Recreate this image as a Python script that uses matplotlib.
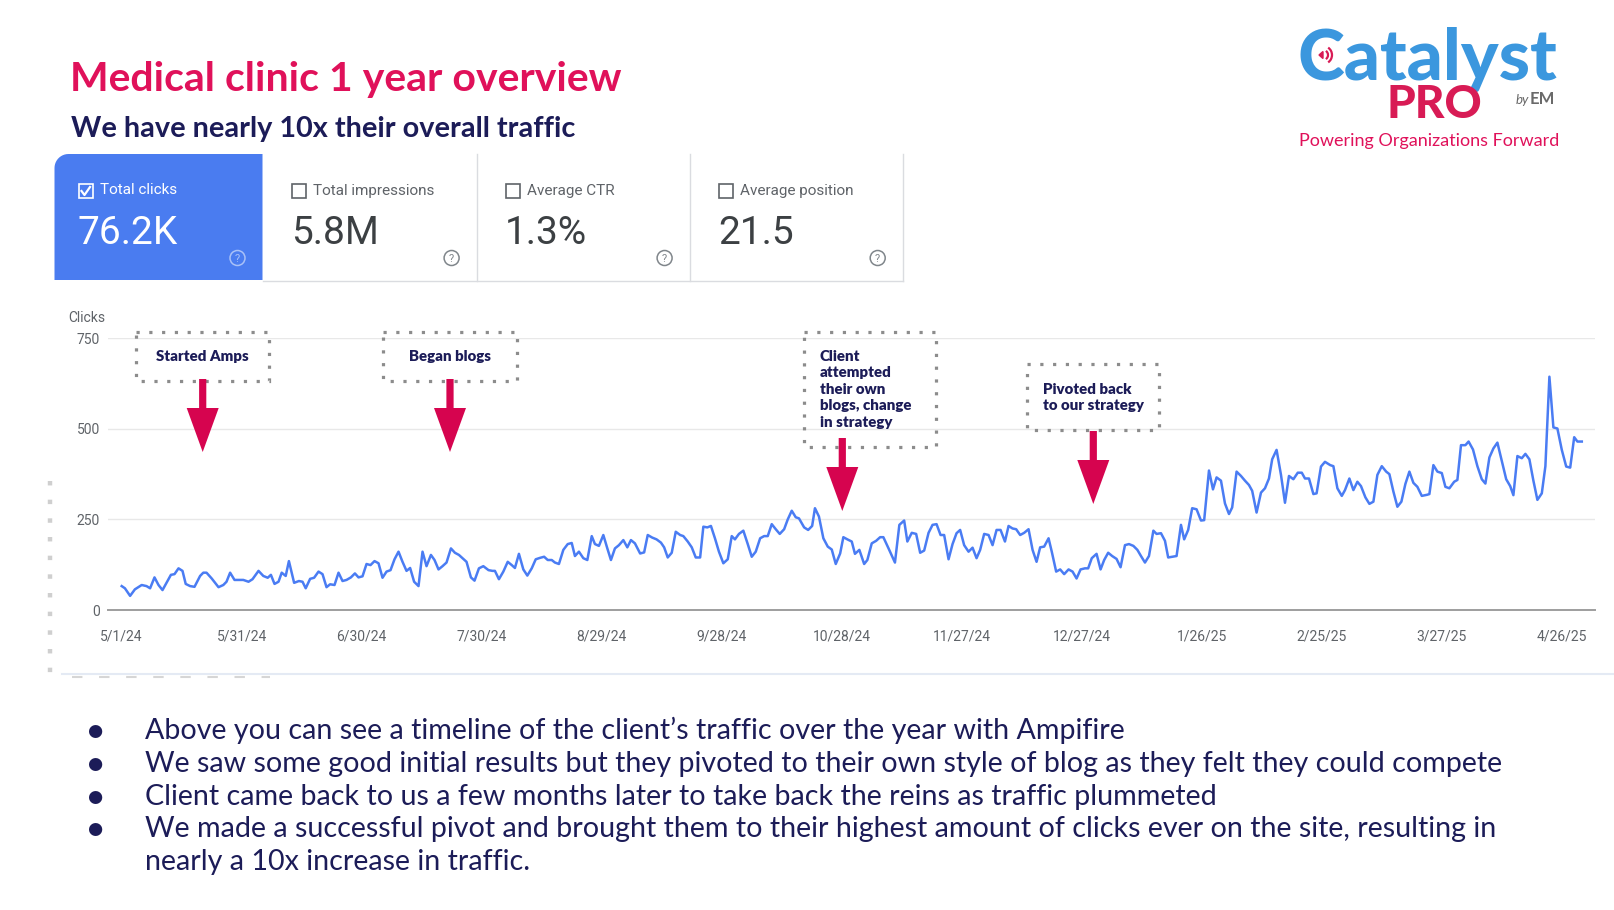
import matplotlib
matplotlib.use('Agg')
import matplotlib.pyplot as plt
import numpy as np
import pandas as pd
from matplotlib.patches import Rectangle, Polygon, Circle, Arc

# ---------------- data ----------------
start_date = '2024-05-01'
day_offset = (
    [0, 0.8, 2.1, 3.3, 5.0, 6.2, 7.1, 8.2, 9.2, 10.2, 11.2, 12.3, 13.2, 14.2, 15.2, 16.0, 17.1, 18.2,
     19.6, 20.4, 21.2, 22.5, 24.2, 25.4, 26.2, 27.1, 28.2, 30.4, 31.7, 32.7, 34.2, 35.4, 36.5, 37.3,
     38.2, 39.2, 40.0, 41.0, 41.8, 43.1, 44.3, 45.2, 46.0, 47.1, 48.1, 49.2, 50.2, 51.2, 52.1, 53.2,
     54.2, 55.2, 56.2, 57.3]
    + [58.3, 59.2, 60.2, 61.2, 62.2, 63.2, 64.2, 65.2, 66.2, 67.2, 68.2, 69.2, 70.2, 71.2, 72.1, 73.1,
       74.2, 75.2, 76.2, 77.3, 78.2, 79.2, 80.2, 81.2, 82.3, 83.3, 84.3, 85.2, 86.2, 87.3, 88.2, 89.3,
       90.4, 91.7, 92.7, 93.3, 94.3, 95.4, 96.5, 97.5, 98.3, 99.3, 100.4, 101.4, 102.5, 103.5, 104.6,
       105.6, 106.5, 107.5, 108.3, 109.3, 110.4, 111.5, 112.5, 113.3, 114.3, 115.4, 116.4, 117.5]
    + [118.3, 119.3, 120.4, 121.4, 122.3, 123.3, 124.3, 125.4, 126.4, 127.3, 128.3, 129.6, 130.6,
       131.5, 132.6, 133.7, 134.8, 135.6, 136.5, 137.5, 138.5, 139.6, 140.4, 141.5, 142.5, 143.5,
       144.6, 145.4, 146.4, 147.3, 148.3, 149.3, 150.4, 151.5, 152.5, 153.3, 154.3, 155.4, 156.5,
       157.5, 158.5, 159.6, 160.6, 161.5, 162.5, 163.5, 164.5, 165.6, 166.5, 167.5, 168.5, 169.3,
       170.6, 171.6, 172.6, 173.3, 174.3, 175.4, 176.5, 177.5, 178.5]
    + [179.6, 180.4, 181.4, 182.5, 183.3, 184.4, 185.6, 186.4, 187.5, 188.6, 189.6, 190.4, 191.7,
       193.3, 194.4, 195.6, 196.4, 197.5, 198.6, 199.6, 200.6, 201.7, 202.7, 203.7, 204.7, 205.6,
       206.7, 207.7, 208.7, 209.6, 210.6, 211.7, 212.7, 213.7, 214.6, 215.6, 216.7, 217.7, 218.7,
       219.7, 220.8, 221.7, 222.7, 223.6, 224.6, 225.6, 226.7, 227.7, 228.7, 229.6, 230.6, 231.7,
       232.5, 233.6, 234.6, 235.6, 236.7, 237.7, 238.7, 239.7]
    + [240.8, 241.6, 242.5, 243.7, 244.7, 245.6, 246.6, 247.6, 248.7, 249.7, 250.8, 251.8, 252.9,
       253.9, 254.8, 255.8, 256.8, 257.9, 258.7, 259.8, 260.8, 261.6, 262.6, 263.7, 264.8, 265.6,
       266.6, 267.6, 268.7, 269.8, 270.6, 271.8, 272.8, 273.7, 274.8, 275.8, 276.8, 277.6, 278.7,
       279.8, 280.8, 281.8, 282.6, 283.7, 284.8, 285.8, 286.8, 287.6, 288.7, 289.8, 290.8, 291.8,
       292.9, 294.0, 295.0, 295.8, 296.8, 297.9, 298.7, 299.8, 300.8]
    + [302.1, 302.9, 303.9, 305.0, 305.8, 306.9, 307.9, 308.9, 309.8, 310.9, 311.9, 312.9, 313.9,
       315.0, 316.1, 316.9, 317.9, 318.9, 319.9, 320.9, 321.9, 322.9, 323.9, 325.0, 326.3, 326.9,
       327.9, 328.9, 330.0, 330.9, 331.9, 333.1, 333.9, 334.8, 335.9, 336.7, 337.8, 338.9, 340.0,
       340.9, 341.9, 342.9, 343.9, 345.0, 346.1, 347.1, 347.9, 348.9, 350.0, 350.9, 351.9, 352.9,
       353.9, 355.0, 355.9, 356.9, 357.9, 358.9, 360.0, 361.1, 362.1, 363.1, 363.9, 365.0]
)
clicks = (
    [66, 60, 39, 57, 69, 66, 60, 90, 69, 55, 75, 97, 99, 115, 108, 72, 66, 64, 94, 103, 103, 87, 63,
     69, 78, 103, 83, 83, 78, 85, 108, 94, 89, 97, 72, 78, 103, 94, 135, 75, 80, 78, 60, 86, 89, 106,
     99, 63, 71, 69, 103, 80, 83, 90]
    + [101, 90, 93, 127, 124, 135, 129, 89, 106, 110, 140, 161, 133, 108, 116, 78, 66, 161, 121, 152,
       138, 112, 121, 131, 170, 158, 152, 143, 133, 90, 81, 115, 121, 110, 108, 108, 85, 106, 133,
       124, 116, 155, 112, 95, 115, 140, 144, 147, 138, 138, 131, 127, 166, 182, 185, 149, 161, 143,
       138, 204]
    + [182, 177, 207, 170, 138, 170, 179, 193, 173, 193, 184, 156, 159, 207, 200, 195, 186, 173, 145,
       158, 216, 207, 204, 189, 173, 145, 145, 230, 228, 232, 198, 161, 129, 140, 204, 195, 210, 219,
       182, 147, 161, 198, 204, 204, 237, 223, 210, 223, 250, 274, 256, 253, 228, 221, 232, 281, 258,
       198, 175, 167, 127]
    + [156, 201, 195, 189, 155, 166, 127, 138, 184, 191, 201, 201, 170, 131, 235, 247, 189, 213, 210,
       158, 164, 213, 235, 237, 207, 207, 140, 182, 212, 221, 179, 161, 172, 143, 166, 210, 207, 179,
       221, 221, 189, 232, 225, 223, 207, 213, 223, 166, 133, 173, 175, 198, 161, 106, 112, 99, 112,
       106, 87, 112]
    + [115, 115, 143, 155, 112, 138, 158, 149, 141, 118, 179, 182, 177, 166, 149, 131, 149, 219, 210,
       212, 191, 145, 147, 149, 235, 195, 221, 281, 278, 247, 248, 385, 333, 366, 357, 294, 265, 283,
       382, 370, 357, 345, 329, 269, 324, 336, 363, 416, 442, 373, 296, 370, 361, 379, 379, 363, 363,
       320, 322, 396, 409]
    + [400, 397, 336, 315, 331, 363, 331, 354, 342, 311, 293, 299, 373, 397, 382, 375, 327, 285, 299,
       348, 382, 351, 340, 315, 318, 320, 400, 382, 378, 340, 336, 354, 359, 455, 455, 465, 443, 397,
       361, 349, 421, 446, 462, 412, 361, 342, 317, 425, 419, 431, 416, 357, 304, 322, 397, 644, 504,
       501, 442, 396, 393, 477, 465, 465]
)
assert len(day_offset) == len(clicks)

x_tick_labels = ['5/1/24', '5/31/24', '6/30/24', '7/30/24', '8/29/24', '9/28/24', '10/28/24',
                 '11/27/24', '12/27/24', '1/26/25', '2/25/25', '3/27/25', '4/26/25']
y_ticks = [0, 250, 500, 750]

card_labels = ['Total clicks', 'Total impressions', 'Average CTR', 'Average position']
card_values = ['76.2K', '5.8M', '1.3%', '21.5']

annotations = ['Started Amps', 'Began blogs',
               'Client\nattempted\ntheir own\nblogs, change\nin strategy',
               'Pivoted back\nto our strategy']

title = 'Medical clinic 1 year overview'
subtitle = 'We have nearly 10x their overall traffic'
bullets = [
    'Above you can see a timeline of the client\u2019s traffic over the year with Ampifire',
    'We saw some good initial results but they pivoted to their own style of blog as they felt they could compete',
    'Client came back to us a few months later to take back the reins as traffic plummeted',
    'We made a successful pivot and brought them to their highest amount of clicks ever on the site, resulting in\nnearly a 10x increase in traffic.',
]

# ---------------- style ----------------
NAVY = '#1c1c58'
CRIMSON = '#e0115a'
BLUE_LINE = '#4a7cf3'
CARD_BLUE = '#4a7cf0'
GREY_TXT = '#5f6368'
ARROW = '#d6044f'
SANS = ['Lato', 'DejaVu Sans']
ROBOTO = ['Roboto', 'DejaVu Sans']

W, H = 1614, 910
fig = plt.figure(figsize=(W / 100, H / 100), dpi=100)
fig.patch.set_facecolor('white')

# ---------------- line chart ----------------
ax = fig.add_axes([108.3 / W, 1 - 610 / H, (1595 - 108.3) / W, (610 - 338.3) / H])
start = pd.Timestamp(start_date)
dates = start + pd.to_timedelta(day_offset, unit='D')
ax.plot(dates, clicks, color=BLUE_LINE, lw=1.8, solid_joinstyle='round', zorder=3)
ax.set_ylim(0, 750)
ax.set_xlim(start - pd.Timedelta(days=3.35), start + pd.Timedelta(days=368.3))
tick_dates = [start + pd.Timedelta(days=30 * i) for i in range(len(x_tick_labels))]
ax.set_xticks(tick_dates)
ax.set_xticklabels(x_tick_labels, fontfamily=ROBOTO, fontsize=10, color=GREY_TXT)
ax.set_yticks(y_ticks)
ax.set_yticklabels([str(v) for v in y_ticks], fontfamily=ROBOTO, fontsize=10, color=GREY_TXT)
ax.tick_params(axis='both', length=0)
ax.tick_params(axis='y', pad=6)
ax.tick_params(axis='x', pad=14)
ax.grid(axis='y', color='#e8e8e8', lw=1.0)
ax.set_axisbelow(True)
for s in ['top', 'right', 'left']:
    ax.spines[s].set_visible(False)
ax.spines['bottom'].set_color('#9e9e9e')
ax.spines['bottom'].set_linewidth(1.4)
ax.patch.set_alpha(0)

# ---------------- overlay (pixel coordinates) ----------------
ov = fig.add_axes([0, 0, 1, 1], zorder=5)
ov.set_xlim(0, W)
ov.set_ylim(H, 0)
ov.axis('off')
ov.patch.set_alpha(0)

# title and subtitle
ov.text(70, 79, title, fontfamily=SANS, fontweight='bold', fontsize=29.5, color=CRIMSON, va='center', ha='left')
ov.text(71, 129, subtitle, fontfamily=SANS, fontweight='bold', fontsize=20.8, color=NAVY, va='center', ha='left')

# logo
ov.text(1298, 80, 'Catalyst', fontfamily=SANS, fontweight='black', fontsize=51, color='#3b97de', va='baseline', ha='left')
ov.text(1387, 118.5, 'PRO', fontfamily=SANS, fontweight='black', fontsize=33, color='#d81b55', va='baseline', ha='left')
ov.text(1516, 104, 'by', fontfamily=SANS, fontstyle='italic', fontsize=9.5, color='#666666', va='baseline', ha='left')
ov.text(1530, 104, 'EM', fontfamily=SANS, fontweight='bold', fontsize=12, color='#6a6a6a', va='baseline', ha='left')
ov.text(1429, 141, 'Powering Organizations Forward', fontfamily=SANS, fontsize=13, color=CRIMSON, va='center', ha='center')
# small speaker icon inside the "C"
ix, iy = 1323, 55
ov.add_patch(Polygon([(ix, iy - 3.5), (ix, iy + 3.5), (ix - 4, iy)], closed=True, color='#d81b55', zorder=7))
for r in (5, 9):
    ov.add_patch(Arc((ix, iy), 2 * r, 2 * r, theta1=-55, theta2=55, color='#d81b55', lw=1.6, zorder=7))

# metric cards
card_x = [54.5, 262.5, 476.6, 689.6, 902.7]
top, bot = 154, 280
rr = 14
arc_t = np.linspace(np.pi, 1.5 * np.pi, 12)
corner = [(card_x[0] + rr + rr * np.cos(t), top + rr + rr * np.sin(t)) for t in arc_t]
pts = [(card_x[0], bot)] + corner + [(card_x[1], top), (card_x[1], bot)]
ov.add_patch(Polygon(pts, closed=True, facecolor=CARD_BLUE, edgecolor='none', zorder=1))
for xb in card_x[2:]:
    ov.plot([xb, xb], [top, bot + 1], color='#dadce0', lw=1.0, zorder=1)
ov.plot([card_x[1], card_x[4]], [bot + 1, bot + 1], color='#dadce0', lw=1.0, zorder=1)

for i in range(4):
    x0 = card_x[i]
    first = (i == 0)
    cx = x0 + (24 if first else 29.5)
    fg = 'white' if first else GREY_TXT
    ov.add_patch(Rectangle((cx, 184), 14, 14, fill=False, ec=('white' if first else '#5f6368'), lw=1.2, zorder=3))
    if first:
        ov.plot([cx + 3, cx + 6, cx + 11.5], [191, 195, 187], color='white', lw=1.6, zorder=4)
    ov.text(cx + 21, 190.5, card_labels[i], fontfamily=ROBOTO, fontsize=11, color=fg, va='center', ha='left', zorder=4)
    ov.text(cx - 1, 233, card_values[i], fontfamily=ROBOTO, fontsize=28, color=('white' if first else '#3c4043'),
            va='center', ha='left', zorder=4)
    hx = card_x[i + 1] - 25
    hc = '#a9c1f7' if first else '#80868b'
    ov.add_patch(Circle((hx, 258), 7.5, fill=False, ec=hc, lw=1.1, zorder=4))
    ov.text(hx, 258.5, '?', fontfamily=ROBOTO, fontsize=8, color=hc, va='center', ha='center', zorder=4)

# chart label
ov.text(68, 318, 'Clicks', fontfamily=ROBOTO, fontsize=10, color=GREY_TXT, va='center', ha='left')

# faint screenshot frame remnants
ov.plot([62, W], [674, 674], color='#e4eaf4', lw=1.5, zorder=0)
ov.plot([49.5, 49.5], [481, 680], color='#cfcfcf', lw=3.2, ls=(0, (1, 3.2)), solid_capstyle='butt')
ov.plot([72, 270], [677, 677], color='#d6d6d6', lw=1.5, ls=(0, (5, 8)))

# annotation boxes
boxes = [(136, 331.7, 269.3, 380.7), (383.3, 331.7, 516.7, 380.7),
         (804, 331.7, 936, 446.7), (1026.7, 364.3, 1159.3, 430)]
text_pos = [(202.5, 356.3, 'center'), (450, 356.3, 'center'), (820, 356.3, 'left'), (1043, 389.2, 'left')]
line_gap = 16.45
for (x0, y0, x1, y1), (tx, ty, ha), lab in zip(boxes, text_pos, annotations):
    ov.add_patch(Rectangle((x0, y0), x1 - x0, y1 - y0, fill=False, ec='#8c8c8c', lw=2.3,
                           ls=(0, (1, 3.0)), zorder=6))
    for k, ln in enumerate(lab.split('\n')):
        ov.text(tx, ty + k * line_gap, ln, fontfamily=SANS, fontweight='heavy', fontsize=10.8, color=NAVY,
                va='center', ha=ha, zorder=7)

# arrows
arrows = [(202.7, 379, 408, 452), (450, 379, 408, 452), (842.3, 438, 467, 511), (1093.3, 431, 460, 504)]
for x, t, hs, tip in arrows:
    pts = [(x - 3.6, t), (x + 3.6, t), (x + 3.6, hs), (x + 16, hs), (x, tip), (x - 16, hs), (x - 3.6, hs)]
    ov.add_patch(Polygon(pts, closed=True, facecolor=ARROW, edgecolor='none', zorder=8))

# bullets
ys = [730.7, 763.6, 796.5, 829.5]
for y, b in zip(ys, bullets):
    ov.text(94.7, y, '\u25cf', fontfamily=['DejaVu Sans'], fontsize=12.5, color=NAVY, va='center', ha='center')
    for k, ln in enumerate(b.split('\n')):
        ov.text(145, y + k * 32.9, ln, fontfamily=SANS, fontsize=20.6, color=NAVY, va='center', ha='left')

fig.savefig('out.png', dpi=100, facecolor='white')
